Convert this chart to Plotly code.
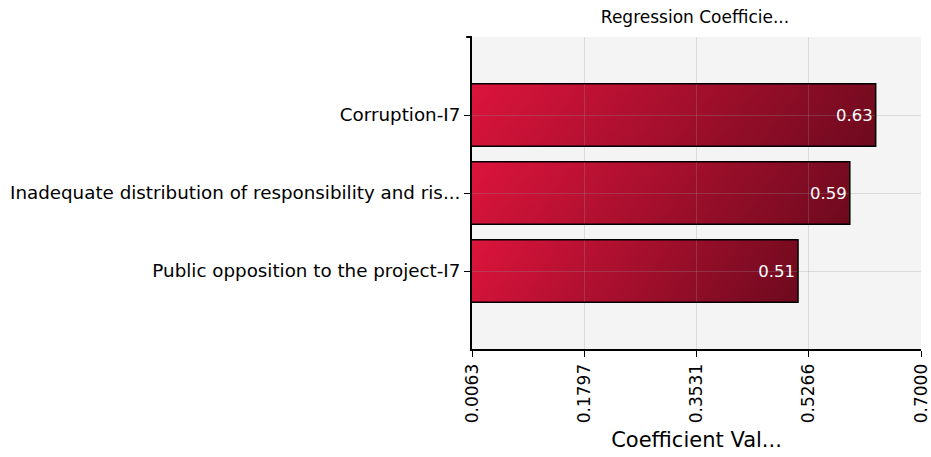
import base64
import struct
import zlib

import plotly.graph_objects as go

# Regression coefficients per risk factor (top to bottom)
categories = [
    "Corruption-I7",
    "Inadequate distribution of responsibility and ris...",
    "Public opposition to the project-I7",
]
coefficients = [0.63, 0.59, 0.51]

tick_values = [0.0063, 0.1797, 0.3531, 0.5266, 0.7000]
tick_labels = [f"{v:.4f}" for v in tick_values]
x_range = [0.0063, 0.7000]

color_start = (220, 20, 60)   # crimson
color_end = (110, 10, 30)     # dark wine


def gradient_png(w=200, h=20):
    """Build a small left-to-right gradient PNG as a data URI."""
    rows = []
    for j in range(h):
        row = bytearray([0])
        for i in range(w):
            t = 0.9 * i / (w - 1) + 0.1 * j / (h - 1)
            t = min(max(t, 0.0), 1.0)
            px = [round(a + (b - a) * t) for a, b in zip(color_start, color_end)]
            row.extend(px)
        rows.append(bytes(row))
    raw = b"".join(rows)

    def chunk(tag, data):
        c = struct.pack(">I", len(data)) + tag + data
        return c + struct.pack(">I", zlib.crc32(tag + data) & 0xFFFFFFFF)

    png = b"\x89PNG\r\n\x1a\n"
    png += chunk(b"IHDR", struct.pack(">IIBBBBB", w, h, 8, 2, 0, 0, 0))
    png += chunk(b"IDAT", zlib.compress(raw, 9))
    png += chunk(b"IEND", b"")
    return "data:image/png;base64," + base64.b64encode(png).decode()


grad = gradient_png()
positions = list(range(len(categories)))
bar_width = 0.8
grid_color = "rgba(150,150,150,0.28)"

fig = go.Figure(
    go.Bar(
        x=coefficients,
        y=positions,
        orientation="h",
        width=bar_width,
        marker=dict(color="rgba(0,0,0,0)", line=dict(color="black", width=1.5)),
        text=coefficients,
        texttemplate="%{x:.2f}",
        textposition="inside",
        insidetextanchor="end",
        textfont=dict(color="white", size=16.5, family="DejaVu Sans"),
        hoverinfo="skip",
    )
)

# gradient fill for each bar, stretched over its extent
images = []
for pos, val in zip(positions, coefficients):
    images.append(
        dict(
            source=grad,
            xref="x",
            yref="y",
            x=x_range[0],
            y=pos - bar_width / 2,
            sizex=val - x_range[0],
            sizey=bar_width,
            xanchor="left",
            yanchor="top",
            sizing="stretch",
            layer="below",
        )
    )

fig.update_layout(
    images=images,
    width=931,
    height=457,
    margin=dict(l=472, r=10, t=37, b=108),
    paper_bgcolor="white",
    plot_bgcolor="#f4f4f4",
    font=dict(family="DejaVu Sans", color="black"),
    showlegend=False,
    title=dict(
        text="Regression Coefficie...",
        font=dict(size=17, color="black"),
        x=0.7465,
        xanchor="center",
        y=1 - 17 / 457,
        yanchor="middle",
    ),
    xaxis=dict(
        range=x_range,
        tickvals=tick_values,
        ticktext=tick_labels,
        tickangle=-90,
        tickfont=dict(size=17),
        ticks="outside",
        ticklen=6,
        tickcolor="black",
        showline=True,
        linecolor="black",
        linewidth=2,
        showgrid=True,
        gridcolor=grid_color,
        gridwidth=1,
        zeroline=False,
        automargin=False,
        title=dict(text="Coefficient Val...", font=dict(size=21), standoff=10),
    ),
    yaxis=dict(
        range=[len(categories), -1],
        tickvals=positions,
        ticktext=categories,
        tickfont=dict(size=18.3),
        ticks="outside",
        ticklen=6,
        tickcolor="black",
        showline=True,
        linecolor="black",
        linewidth=2,
        showgrid=True,
        gridcolor=grid_color,
        gridwidth=1,
        zeroline=False,
        automargin=False,
    ),
)

# small end tick at the top of the vertical axis
fig.add_shape(
    type="line", xref="paper", yref="paper",
    x0=-0.013, x1=0, y0=1, y1=1,
    line=dict(color="black", width=2),
)

fig.write_html("out.html")
